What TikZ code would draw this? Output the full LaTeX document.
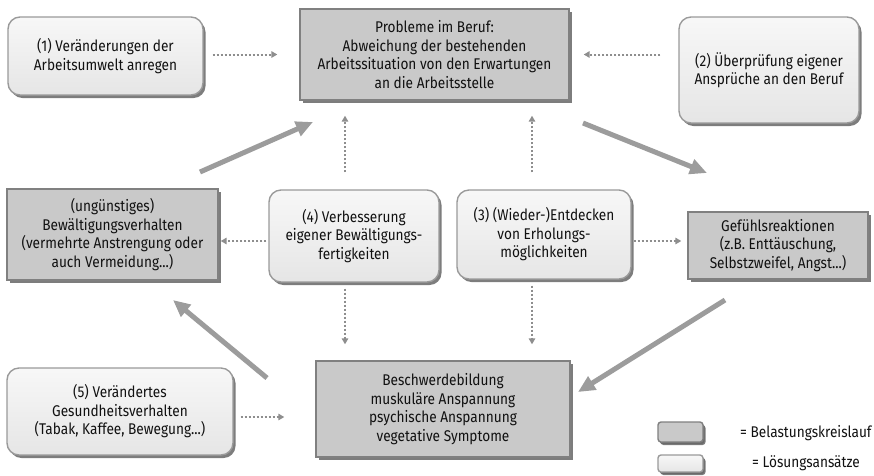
\documentclass[tikz,border=0pt]{standalone}
\usepackage{fontspec}
\setmainfont[FakeStretch=0.88]{Fira Sans}
\usetikzlibrary{shadows,arrows.meta,calc}
\definecolor{txt}{HTML}{111111}
\definecolor{darkfill}{HTML}{C9C9C9}
\definecolor{darkline}{HTML}{808080}
\definecolor{lightline}{HTML}{9A9A9A}
\definecolor{arr}{HTML}{9C9C9C}
\definecolor{dotc}{HTML}{8E8E8E}
\tikzset{
  base/.style={align=center, text=txt, font=\fontsize{15.5}{18.5}\selectfont, inner sep=2pt,
    drop shadow={shadow xshift=2.5pt, shadow yshift=-3pt, fill=black!60, opacity=0.85}},
  loadbox/.style={base, draw=darkline, line width=1.4pt, fill=darkfill},
  solvebox/.style={base, draw=lightline, line width=1.4pt, rounded corners=12pt,
    top color=white!97!black, bottom color=black!10},
  dotarrow/.style={draw=dotc, line width=2pt, dash pattern=on 2pt off 2pt, -{Triangle[length=6pt,width=6.5pt]}},
  bigarrow/.style={draw=arr, line width=5pt, -{Triangle[length=17pt,width=15pt]}},
}
\begin{document}
\begin{tikzpicture}[x=1pt,y=-1pt]
\useasboundingbox (0,0) rectangle (874,475);
% boxes
\node[solvebox, minimum width=195pt, minimum height=78pt] (b1) at (105.5,56) {(1) Veränderungen der\\Arbeitsumwelt anregen};
\node[loadbox, minimum width=269pt, minimum height=91pt] (top) at (434.5,54.5) {Probleme im Beruf:\\Abweichung der bestehenden\\Arbeitssituation von den Erwartungen\\an die Arbeitsstelle};
\node[solvebox, minimum width=180pt, minimum height=106pt] (b2) at (769,70) {(2) Überprüfung eigener\\Ansprüche an den Beruf};
\node[loadbox, minimum width=211pt, minimum height=91pt] (bew) at (112.5,234.5) {(ungünstiges)\\Bewältigungsverhalten\\(vermehrte Anstrengung oder\\auch Vermeidung...)};
\node[solvebox, minimum width=170pt, minimum height=92pt] (b4) at (354,236) {(4) Verbesserung\\eigener Bewältigungs-\\fertigkeiten};
\node[solvebox, minimum width=174pt, minimum height=89pt] (b3) at (544,234.5) {(3) (Wieder-)Entdecken\\von Erholungs-\\möglichkeiten};
\node[loadbox, minimum width=180pt, minimum height=67pt] (gef) at (778,245.5) {Gefühlsreaktionen\\(z.B. Enttäuschung,\\Selbstzweifel, Angst...)};
\node[solvebox, minimum width=226pt, minimum height=87pt] (b5) at (120,411.5) {(5) Verändertes\\Gesundheitsverhalten\\(Tabak, Kaffee, Bewegung...)};
\node[loadbox, minimum width=254pt, minimum height=96pt] (bes) at (443,409) {Beschwerdebildung\\muskuläre Anspannung\\psychische Anspannung\\vegetative Symptome};
% legend
\node[loadbox, rounded corners=3pt, minimum width=45pt, minimum height=20pt, inner sep=0pt,
  drop shadow={shadow xshift=1.5pt, shadow yshift=-2pt, fill=black!60, opacity=0.85}] (lg1) at (680.5,432) {};
\node[solvebox, rounded corners=3pt, minimum width=45pt, minimum height=17pt, inner sep=0pt,
  drop shadow={shadow xshift=1.5pt, shadow yshift=-2pt, fill=black!60, opacity=0.85}] (lg2) at (680.5,463.5) {};
\node[anchor=west, text=txt, font=\fontsize{15.5}{17}\selectfont, inner sep=0pt] (lt1) at (740,433) {= Belastungskreislauf};
\node[anchor=west, text=txt, font=\fontsize{15.5}{17}\selectfont, inner sep=0pt] (lt2) at (752,463) {= Lösungsansätze};
% dotted arrows
\draw[dotarrow, shorten <=9pt, shorten >=22pt] (b1.east |- top.west) -- (top.west);
\draw[dotarrow, shorten <=18pt, shorten >=14pt] (b2.west |- top.east) -- (top.east);
\draw[dotarrow, shorten <=17pt, shorten >=15pt] ([xshift=-9pt]b4.north) -- ([xshift=-9pt]b4.north |- top.south);
\draw[dotarrow, shorten <=17pt, shorten >=15pt] ([xshift=-12pt]b3.north) -- ([xshift=-12pt]b3.north |- top.south);
\draw[dotarrow, shorten <=6pt, shorten >=16pt] ([xshift=-9pt]b4.south) -- ([xshift=-9pt]b4.south |- bes.north);
\draw[dotarrow, shorten <=6pt, shorten >=16pt] ([xshift=-12pt]b3.south) -- ([xshift=-12pt]b3.south |- bes.north);
\draw[dotarrow, shorten <=2pt, shorten >=2pt] ([yshift=-5pt]b4.west) -- ([yshift=-5pt]b4.west -| bew.east);
\draw[dotarrow, shorten <=2pt, shorten >=6pt] ([yshift=-6.5pt]b3.east) -- ([yshift=-6.5pt]b3.east -| gef.west);
\draw[dotarrow, shorten <=7pt, shorten >=31pt] ([yshift=-5.5pt]b5.east) -- ([yshift=-5.5pt]b5.east -| bes.west);
% thick arrows
\coordinate (a1s) at (200,172); \coordinate (a1e) at (313,122);
\coordinate (a2s) at (583,123); \coordinate (a2e) at (707,173);
\coordinate (a3s) at (725,300); \coordinate (a3e) at (578,392);
\coordinate (a4s) at (267,378); \coordinate (a4e) at (173,300);
\draw[bigarrow] (a1s) -- (a1e);
\draw[bigarrow] (a2s) -- (a2e);
\draw[bigarrow] (a3s) -- (a3e);
\draw[bigarrow] (a4s) -- (a4e);
\end{tikzpicture}
\end{document}
